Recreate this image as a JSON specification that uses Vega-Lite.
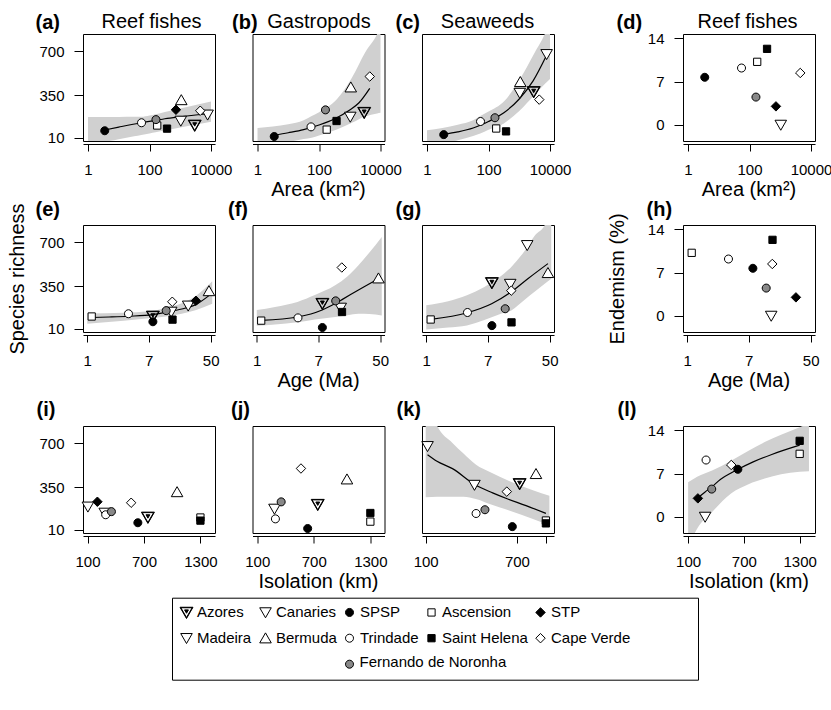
{
"$schema": "https://vega.github.io/schema/vega-lite/v6.json",
"padding": {"left": 6, "top": 11, "right": 0, "bottom": 0},
"datasets": {
"islands": [
{"island":"Azores","area":2950,"age":8.0,"iso":742,"fish":110,"gastro":212,"seaweed":378,"endem":null},
{"island":"Canaries","area":7760,"age":24.5,"iso":104,"fish":194,"gastro":null,"seaweed":678,"endem":null},
{"island":"SPSP","area":3.5,"age":8.0,"iso":635,"fish":66,"gastro":20,"seaweed":35,"endem":7.7},
{"island":"Ascension","area":178,"age":1.15,"iso":1300,"fish":108,"gastro":75,"seaweed":84,"endem":10.2},
{"island":"STP","area":724,"age":31.3,"iso":205,"fish":234,"gastro":null,"seaweed":null,"endem":3.0},
{"island":"Madeira","area":1040,"age":14.3,"iso":283,"fish":145,"gastro":177,"seaweed":368,"endem":0},
{"island":"Bermuda","area":1080,"age":47.3,"iso":1052,"fish":312,"gastro":414,"seaweed":457,"endem":null},
{"island":"Trindade","area":55,"age":3.69,"iso":293,"fish":130,"gastro":97,"seaweed":140,"endem":9.2},
{"island":"Saint Helena","area":372,"age":14.9,"iso":1300,"fish":83,"gastro":144,"seaweed":61,"endem":12.3},
{"island":"Cape Verde","area":4470,"age":14.8,"iso":564,"fish":226,"gastro":500,"seaweed":315,"endem":8.4},
{"island":"Fernando de Noronha","area":162,"age":12.2,"iso":354,"fish":155,"gastro":233,"seaweed":170,"endem":4.5}
],
"bands": [
{"p":"a","x":1,"lo":-49,"hi":176},{"p":"a","x":3.16,"lo":-25,"hi":176},{"p":"a","x":10,"lo":-2,"hi":177},{"p":"a","x":31.6,"lo":22,"hi":178},{"p":"a","x":54,"lo":33,"hi":178},{"p":"a","x":100,"lo":45,"hi":188},{"p":"a","x":158,"lo":55,"hi":198},{"p":"a","x":316,"lo":68,"hi":216},{"p":"a","x":1000,"lo":92,"hi":245},{"p":"a","x":3162,"lo":116,"hi":272},{"p":"a","x":10000,"lo":139,"hi":300},
{"p":"b","x":1,"lo":-90,"hi":88},{"p":"b","x":3.16,"lo":-55,"hi":100},{"p":"b","x":10,"lo":-25,"hi":118},{"p":"b","x":31.6,"lo":0,"hi":150},{"p":"b","x":58,"lo":10,"hi":184},{"p":"b","x":100,"lo":28,"hi":215},{"p":"b","x":380,"lo":77,"hi":318},{"p":"b","x":1175,"lo":130,"hi":491},{"p":"b","x":3162,"lo":180,"hi":693},{"p":"b","x":7760,"lo":205,"hi":840},{"p":"b","x":10000,"lo":210,"hi":900},
{"p":"c","x":1,"lo":-70,"hi":70},{"p":"c","x":3.16,"lo":-40,"hi":88},{"p":"c","x":10,"lo":-10,"hi":115},{"p":"c","x":31.6,"lo":25,"hi":150},{"p":"c","x":54,"lo":45,"hi":184},{"p":"c","x":100,"lo":75,"hi":220},{"p":"c","x":316,"lo":125,"hi":300},{"p":"c","x":1000,"lo":225,"hi":470},{"p":"c","x":3162,"lo":355,"hi":690},{"p":"c","x":6760,"lo":440,"hi":840},{"p":"c","x":10000,"lo":480,"hi":950},
{"p":"e","x":1,"lo":50,"hi":132},{"p":"e","x":3.16,"lo":75,"hi":138},{"p":"e","x":7.08,"lo":95,"hi":150},{"p":"e","x":12,"lo":108,"hi":176},{"p":"e","x":20,"lo":130,"hi":215},{"p":"e","x":31.6,"lo":160,"hi":275},{"p":"e","x":52.5,"lo":210,"hi":390},
{"p":"f","x":1,"lo":35,"hi":160},{"p":"f","x":1.78,"lo":45,"hi":185},{"p":"f","x":3.63,"lo":62,"hi":225},{"p":"f","x":6.3,"lo":85,"hi":280},{"p":"f","x":12,"lo":104,"hi":358},{"p":"f","x":17.8,"lo":118,"hi":430},{"p":"f","x":25.1,"lo":130,"hi":518},{"p":"f","x":35.5,"lo":128,"hi":620},{"p":"f","x":52.5,"lo":117,"hi":745},
{"p":"g","x":1,"lo":5,"hi":198},{"p":"g","x":2,"lo":20,"hi":230},{"p":"g","x":3.63,"lo":37,"hi":278},{"p":"g","x":6.3,"lo":80,"hi":345},{"p":"g","x":10,"lo":125,"hi":420},{"p":"g","x":14.8,"lo":157,"hi":505},{"p":"g","x":22.4,"lo":240,"hi":630},{"p":"g","x":31.6,"lo":310,"hi":760},{"p":"g","x":42.7,"lo":370,"hi":840},{"p":"g","x":52.5,"lo":411,"hi":1000},
{"p":"k","x":100,"lo":270,"hi":1100},{"p":"k","x":128,"lo":275,"hi":840},{"p":"k","x":177,"lo":275,"hi":705},{"p":"k","x":224,"lo":275,"hi":620},{"p":"k","x":291,"lo":257,"hi":533},{"p":"k","x":398,"lo":215,"hi":470},{"p":"k","x":593,"lo":165,"hi":401},{"p":"k","x":1000,"lo":95,"hi":325},{"p":"k","x":1400,"lo":45,"hi":282},
{"p":"l","x":100,"lo":-5,"hi":5.6},{"p":"l","x":197,"lo":-1.9,"hi":6.5},{"p":"l","x":358,"lo":0.8,"hi":7.5},{"p":"l","x":562,"lo":3.8,"hi":9.1},{"p":"l","x":750,"lo":5.3,"hi":10.7},{"p":"l","x":924,"lo":6.2,"hi":12.1},{"p":"l","x":1100,"lo":6.9,"hi":13.3},{"p":"l","x":1300,"lo":7.3,"hi":14.5},{"p":"l","x":1400,"lo":7.4,"hi":15.1}
],
"lines": [
{"p":"a","x":3.5,"y":72},{"p":"a","x":10,"y":95},{"p":"a","x":54,"y":130},{"p":"a","x":158,"y":149},{"p":"a","x":316,"y":162},{"p":"a","x":1000,"y":178},{"p":"a","x":3162,"y":192},{"p":"a","x":7760,"y":202},
{"p":"b","x":3.5,"y":30},{"p":"b","x":10,"y":50},{"p":"b","x":31.6,"y":75},{"p":"b","x":100,"y":112},{"p":"b","x":316,"y":160},{"p":"b","x":1000,"y":232},{"p":"b","x":2000,"y":290},{"p":"b","x":4470,"y":405},
{"p":"c","x":3.5,"y":38},{"p":"c","x":10,"y":57},{"p":"c","x":31.6,"y":88},{"p":"c","x":54,"y":110},{"p":"c","x":100,"y":140},{"p":"c","x":316,"y":210},{"p":"c","x":1000,"y":320},{"p":"c","x":2820,"y":465},{"p":"c","x":7760,"y":670},
{"p":"e","x":1.15,"y":100},{"p":"e","x":2,"y":104},{"p":"e","x":3.72,"y":110},{"p":"e","x":7.94,"y":123},{"p":"e","x":12.6,"y":143},{"p":"e","x":20,"y":168},{"p":"e","x":31.6,"y":205},{"p":"e","x":47.3,"y":275},
{"p":"f","x":1.15,"y":77},{"p":"f","x":3.66,"y":104},{"p":"f","x":7.94,"y":160},{"p":"f","x":12,"y":212},{"p":"f","x":15.1,"y":245},{"p":"f","x":25.1,"y":320},{"p":"f","x":47.3,"y":410},
{"p":"g","x":1.15,"y":85},{"p":"g","x":3.66,"y":138},{"p":"g","x":7.94,"y":210},{"p":"g","x":14.7,"y":304},{"p":"g","x":25,"y":410},{"p":"g","x":47.3,"y":531},
{"p":"k","x":104,"y":610},{"p":"k","x":126,"y":560},{"p":"k","x":177,"y":499},{"p":"k","x":287,"y":370},{"p":"k","x":417,"y":305},{"p":"k","x":553,"y":262},{"p":"k","x":851,"y":203},{"p":"k","x":1300,"y":141},
{"p":"l","x":205,"y":3.1},{"p":"l","x":280,"y":4.0},{"p":"l","x":358,"y":4.9},{"p":"l","x":450,"y":6.1},{"p":"l","x":562,"y":7.1},{"p":"l","x":637,"y":7.7},{"p":"l","x":800,"y":8.9},{"p":"l","x":1000,"y":10.1},{"p":"l","x":1300,"y":11.6}
]
},
"config": {
"font": "Liberation Sans",
"view": {"stroke": "black", "strokeWidth": 1},
"axisX": {"offset": 3, "tickSize": 7, "labelPadding": 11, "labelFontSize": 15, "labelColor": "black", "tickColor": "black", "domainColor": "black", "grid": false, "labelFlush": false, "labelOverlap": false, "titleAlign": "left", "titleBaseline": "alphabetic", "titleFontSize": 20, "titleFontWeight": "bold", "titleColor": "black", "titleAngle": 0},
"axisY": {"tickSize": 9, "labelPadding": 10, "labelFontSize": 15, "labelColor": "black", "tickColor": "black", "domain": false, "grid": false, "titleFontSize": 20, "titleFontWeight": "normal", "titleColor": "black", "titleBaseline": "alphabetic", "titleAlign": "center"},
"title": {"fontSize": 20, "fontWeight": "normal", "color": "black", "orient": "bottom", "anchor": "middle", "frame": "group", "baseline": "top", "offset": 3},
"legend": {"labelFontSize": 15, "labelColor": "black", "strokeColor": "black", "padding": 7, "rowPadding": 10, "columnPadding": 5, "symbolStrokeWidth": 1, "labelOffset": 3, "symbolOpacity": 1, "columns": 5, "direction": "horizontal", "gridAlign": "each", "fillColor": "white", "symbolSize": 121}
},
"concat": [
{"width":132,"height":107,"layer":[
{"data":{"name":"bands"},"transform":[{"filter":"datum.p=='a'"}],"mark":{"type":"area","color":"#d0d0d0","clip":true,"interpolate":"monotone"},
"encoding":{"x":{"field":"x","type":"quantitative","scale":{"type":"log","domain":[0.687,13490],"nice":false},"axis":{"values":[1,100,10000],"format":"d","title":"(a)","titleX":-48,"titleY":-116}},
"y":{"field":"lo","type":"quantitative","scale":{"domain":[-16,840],"nice":false,"zero":false},"axis":{"values":[10,350,700],"title":"Reef fishes","titleAngle":0,"titleX":68,"titleY":-6.5}},"y2":{"field":"hi"}}},
{"data":{"name":"lines"},"transform":[{"filter":"datum.p=='a'"}],"mark":{"type":"line","color":"black","strokeWidth":1.2,"clip":true,"interpolate":"monotone"},"encoding":{"x":{"field":"x","type":"quantitative"},"y":{"field":"y","type":"quantitative"}}},
{"data":{"name":"islands"},"mark":{"type":"point","filled":true,"stroke":"black","strokeWidth":1,"opacity":1,"size":121},"encoding":{"x":{"field":"area","type":"quantitative"},"y":{"field":"fish","type":"quantitative"},
"shape":{"field":"island","type":"nominal","scale":{"domain":["Azores","Canaries","SPSP","Ascension","STP","Madeira","Bermuda","Trindade","Saint Helena","Cape Verde"," ","  ","Fernando de Noronha"],"range":["M-1.18,-0.93L1.18,-0.93L0,1.12ZM-1.024,-0.84L0,0.939L1.024,-0.84ZM-0.354,-0.453L0.354,-0.453L0,0.162Z","M-1.05,-0.85L1.05,-0.85L0,0.97Z","M0.73,0A0.73,0.73,0,1,1,-0.73,0A0.73,0.73,0,1,1,0.73,0Z","M-0.66,-0.66L0.66,-0.66L0.66,0.66L-0.66,0.66Z","M0,-0.86L0.86,0L0,0.86L-0.86,0Z","M-1.05,-0.85L1.05,-0.85L0,0.97Z","M-1.05,0.85L1.05,0.85L0,-0.97Z","M0.73,0A0.73,0.73,0,1,1,-0.73,0A0.73,0.73,0,1,1,0.73,0Z","M-0.66,-0.66L0.66,-0.66L0.66,0.66L-0.66,0.66Z","M0,-0.86L0.86,0L0,0.86L-0.86,0Z","M0,0","M0,0","M0.73,0A0.73,0.73,0,1,1,-0.73,0A0.73,0.73,0,1,1,0.73,0Z"]},"legend":{"title":"000000000","titleOrient":"right","titleFontSize":12,"titleColor":"transparent","titlePadding":0,"orient":"none","legendX":89,"legendY":563.7,"labelExpr":"datum.label == 'Fernando de Noronha' ? '' : datum.label"}},
"fill":{"field":"island","type":"nominal","scale":{"domain":["Azores","Canaries","SPSP","Ascension","STP","Madeira","Bermuda","Trindade","Saint Helena","Cape Verde"," ","  ","Fernando de Noronha"],"range":["black","white","black","white","black","white","white","white","black","white","white","white","#888888"]},"legend":{"title":"000000000","titleOrient":"right","titleFontSize":12,"titleColor":"transparent","titlePadding":0,"orient":"none","legendX":89,"legendY":563.7,"labelExpr":"datum.label == 'Fernando de Noronha' ? '' : datum.label"}},
"stroke":{"condition":{"test":"datum.island == 'Fernando de Noronha'","field":"island","type":"nominal","scale":{"domain":["Fernando de Noronha"],"range":["black"]},"legend":{"title":null,"orient":"none","legendX":258.5,"legendY":620.7,"symbolType":"circle","symbolSize":121,"symbolOpacity":0,"strokeColor":"transparent","fillColor":"transparent","padding":0}},"value":"black"}}}
]},
{"width":132,"height":107,"title":"Area (km²)","layer":[
{"data":{"name":"bands"},"transform":[{"filter":"datum.p=='b'"}],"mark":{"type":"area","color":"#d0d0d0","clip":true,"interpolate":"monotone"},
"encoding":{"x":{"field":"x","type":"quantitative","scale":{"type":"log","domain":[0.687,13490],"nice":false},"axis":{"values":[1,100,10000],"format":"d","title":"(b)","titleX":-21,"titleY":-116}},
"y":{"field":"lo","type":"quantitative","scale":{"domain":[-16,840],"nice":false,"zero":false},"axis":{"labels":false,"ticks":false,"title":"Gastropods","titleAngle":0,"titleX":66,"titleY":-6.5}},"y2":{"field":"hi"}}},
{"data":{"name":"lines"},"transform":[{"filter":"datum.p=='b'"}],"mark":{"type":"line","color":"black","strokeWidth":1.2,"clip":true,"interpolate":"monotone"},"encoding":{"x":{"field":"x","type":"quantitative"},"y":{"field":"y","type":"quantitative"}}},
{"data":{"name":"islands"},"mark":{"type":"point","filled":true,"stroke":"black","strokeWidth":1,"opacity":1,"size":121},"encoding":{"x":{"field":"area","type":"quantitative"},"y":{"field":"gastro","type":"quantitative"},
"shape":{"field":"island","type":"nominal","scale":{"domain":["Azores","Canaries","SPSP","Ascension","STP","Madeira","Bermuda","Trindade","Saint Helena","Cape Verde"," ","  ","Fernando de Noronha"],"range":["M-1.18,-0.93L1.18,-0.93L0,1.12ZM-1.024,-0.84L0,0.939L1.024,-0.84ZM-0.354,-0.453L0.354,-0.453L0,0.162Z","M-1.05,-0.85L1.05,-0.85L0,0.97Z","M0.73,0A0.73,0.73,0,1,1,-0.73,0A0.73,0.73,0,1,1,0.73,0Z","M-0.66,-0.66L0.66,-0.66L0.66,0.66L-0.66,0.66Z","M0,-0.86L0.86,0L0,0.86L-0.86,0Z","M-1.05,-0.85L1.05,-0.85L0,0.97Z","M-1.05,0.85L1.05,0.85L0,-0.97Z","M0.73,0A0.73,0.73,0,1,1,-0.73,0A0.73,0.73,0,1,1,0.73,0Z","M-0.66,-0.66L0.66,-0.66L0.66,0.66L-0.66,0.66Z","M0,-0.86L0.86,0L0,0.86L-0.86,0Z","M0,0","M0,0","M0.73,0A0.73,0.73,0,1,1,-0.73,0A0.73,0.73,0,1,1,0.73,0Z"]},"legend":{"title":"000000000","titleOrient":"right","titleFontSize":12,"titleColor":"transparent","titlePadding":0,"orient":"none","legendX":89,"legendY":563.7,"labelExpr":"datum.label == 'Fernando de Noronha' ? '' : datum.label"}},
"fill":{"field":"island","type":"nominal","scale":{"domain":["Azores","Canaries","SPSP","Ascension","STP","Madeira","Bermuda","Trindade","Saint Helena","Cape Verde"," ","  ","Fernando de Noronha"],"range":["black","white","black","white","black","white","white","white","black","white","white","white","#888888"]},"legend":{"title":"000000000","titleOrient":"right","titleFontSize":12,"titleColor":"transparent","titlePadding":0,"orient":"none","legendX":89,"legendY":563.7,"labelExpr":"datum.label == 'Fernando de Noronha' ? '' : datum.label"}},
"stroke":{"condition":{"test":"datum.island == 'Fernando de Noronha'","field":"island","type":"nominal","scale":{"domain":["Fernando de Noronha"],"range":["black"]},"legend":{"title":null,"orient":"none","legendX":258.5,"legendY":620.7,"symbolType":"circle","symbolSize":121,"symbolOpacity":0,"strokeColor":"transparent","fillColor":"transparent","padding":0}},"value":"black"}}}
]},
{"width":132,"height":107,"layer":[
{"data":{"name":"bands"},"transform":[{"filter":"datum.p=='c'"}],"mark":{"type":"area","color":"#d0d0d0","clip":true,"interpolate":"monotone"},
"encoding":{"x":{"field":"x","type":"quantitative","scale":{"type":"log","domain":[0.687,13490],"nice":false},"axis":{"values":[1,100,10000],"format":"d","title":"(c)","titleX":-27,"titleY":-116}},
"y":{"field":"lo","type":"quantitative","scale":{"domain":[-16,840],"nice":false,"zero":false},"axis":{"labels":false,"ticks":false,"title":"Seaweeds","titleAngle":0,"titleX":65,"titleY":-6.5}},"y2":{"field":"hi"}}},
{"data":{"name":"lines"},"transform":[{"filter":"datum.p=='c'"}],"mark":{"type":"line","color":"black","strokeWidth":1.2,"clip":true,"interpolate":"monotone"},"encoding":{"x":{"field":"x","type":"quantitative"},"y":{"field":"y","type":"quantitative"}}},
{"data":{"name":"islands"},"mark":{"type":"point","filled":true,"stroke":"black","strokeWidth":1,"opacity":1,"size":121},"encoding":{"x":{"field":"area","type":"quantitative"},"y":{"field":"seaweed","type":"quantitative"},
"shape":{"field":"island","type":"nominal","scale":{"domain":["Azores","Canaries","SPSP","Ascension","STP","Madeira","Bermuda","Trindade","Saint Helena","Cape Verde"," ","  ","Fernando de Noronha"],"range":["M-1.18,-0.93L1.18,-0.93L0,1.12ZM-1.024,-0.84L0,0.939L1.024,-0.84ZM-0.354,-0.453L0.354,-0.453L0,0.162Z","M-1.05,-0.85L1.05,-0.85L0,0.97Z","M0.73,0A0.73,0.73,0,1,1,-0.73,0A0.73,0.73,0,1,1,0.73,0Z","M-0.66,-0.66L0.66,-0.66L0.66,0.66L-0.66,0.66Z","M0,-0.86L0.86,0L0,0.86L-0.86,0Z","M-1.05,-0.85L1.05,-0.85L0,0.97Z","M-1.05,0.85L1.05,0.85L0,-0.97Z","M0.73,0A0.73,0.73,0,1,1,-0.73,0A0.73,0.73,0,1,1,0.73,0Z","M-0.66,-0.66L0.66,-0.66L0.66,0.66L-0.66,0.66Z","M0,-0.86L0.86,0L0,0.86L-0.86,0Z","M0,0","M0,0","M0.73,0A0.73,0.73,0,1,1,-0.73,0A0.73,0.73,0,1,1,0.73,0Z"]},"legend":{"title":"000000000","titleOrient":"right","titleFontSize":12,"titleColor":"transparent","titlePadding":0,"orient":"none","legendX":89,"legendY":563.7,"labelExpr":"datum.label == 'Fernando de Noronha' ? '' : datum.label"}},
"fill":{"field":"island","type":"nominal","scale":{"domain":["Azores","Canaries","SPSP","Ascension","STP","Madeira","Bermuda","Trindade","Saint Helena","Cape Verde"," ","  ","Fernando de Noronha"],"range":["black","white","black","white","black","white","white","white","black","white","white","white","#888888"]},"legend":{"title":"000000000","titleOrient":"right","titleFontSize":12,"titleColor":"transparent","titlePadding":0,"orient":"none","legendX":89,"legendY":563.7,"labelExpr":"datum.label == 'Fernando de Noronha' ? '' : datum.label"}},
"stroke":{"condition":{"test":"datum.island == 'Fernando de Noronha'","field":"island","type":"nominal","scale":{"domain":["Fernando de Noronha"],"range":["black"]},"legend":{"title":null,"orient":"none","legendX":258.5,"legendY":620.7,"symbolType":"circle","symbolSize":121,"symbolOpacity":0,"strokeColor":"transparent","fillColor":"transparent","padding":0}},"value":"black"}}}
]},
{"width":54,"height":107,"data":{"values":[]},"mark":"point","view":{"stroke":null}},
{"width":132,"height":107,"title":"Area (km²)","data":{"name":"islands"},"mark":{"type":"point","filled":true,"stroke":"black","strokeWidth":1,"opacity":1,"size":121},
"encoding":{"x":{"field":"area","type":"quantitative","scale":{"type":"log","domain":[0.687,13490],"nice":false},"axis":{"values":[1,100,10000],"format":"d","title":"(d)","titleX":-67,"titleY":-116}},
"y":{"field":"endem","type":"quantitative","scale":{"domain":[-2.6,14.7],"nice":false,"zero":false},"axis":{"values":[0,7,14],"title":"Reef fishes","titleAngle":0,"titleX":64,"titleY":-6.5}},
"shape":{"field":"island","type":"nominal","scale":{"domain":["Azores","Canaries","SPSP","Ascension","STP","Madeira","Bermuda","Trindade","Saint Helena","Cape Verde"," ","  ","Fernando de Noronha"],"range":["M-1.18,-0.93L1.18,-0.93L0,1.12ZM-1.024,-0.84L0,0.939L1.024,-0.84ZM-0.354,-0.453L0.354,-0.453L0,0.162Z","M-1.05,-0.85L1.05,-0.85L0,0.97Z","M0.73,0A0.73,0.73,0,1,1,-0.73,0A0.73,0.73,0,1,1,0.73,0Z","M-0.66,-0.66L0.66,-0.66L0.66,0.66L-0.66,0.66Z","M0,-0.86L0.86,0L0,0.86L-0.86,0Z","M-1.05,-0.85L1.05,-0.85L0,0.97Z","M-1.05,0.85L1.05,0.85L0,-0.97Z","M0.73,0A0.73,0.73,0,1,1,-0.73,0A0.73,0.73,0,1,1,0.73,0Z","M-0.66,-0.66L0.66,-0.66L0.66,0.66L-0.66,0.66Z","M0,-0.86L0.86,0L0,0.86L-0.86,0Z","M0,0","M0,0","M0.73,0A0.73,0.73,0,1,1,-0.73,0A0.73,0.73,0,1,1,0.73,0Z"]},"legend":{"title":"000000000","titleOrient":"right","titleFontSize":12,"titleColor":"transparent","titlePadding":0,"orient":"none","legendX":89,"legendY":563.7,"labelExpr":"datum.label == 'Fernando de Noronha' ? '' : datum.label"}},
"fill":{"field":"island","type":"nominal","scale":{"domain":["Azores","Canaries","SPSP","Ascension","STP","Madeira","Bermuda","Trindade","Saint Helena","Cape Verde"," ","  ","Fernando de Noronha"],"range":["black","white","black","white","black","white","white","white","black","white","white","white","#888888"]},"legend":{"title":"000000000","titleOrient":"right","titleFontSize":12,"titleColor":"transparent","titlePadding":0,"orient":"none","legendX":89,"legendY":563.7,"labelExpr":"datum.label == 'Fernando de Noronha' ? '' : datum.label"}},
"stroke":{"condition":{"test":"datum.island == 'Fernando de Noronha'","field":"island","type":"nominal","scale":{"domain":["Fernando de Noronha"],"range":["black"]},"legend":{"title":null,"orient":"none","legendX":258.5,"legendY":620.7,"symbolType":"circle","symbolSize":121,"symbolOpacity":0,"strokeColor":"transparent","fillColor":"transparent","padding":0}},"value":"black"}}},
{"width":1,"height":73.3,"data":{"values":[]},"mark":"point","view":{"stroke":null}},
{"width":1,"height":73.3,"data":{"values":[]},"mark":"point","view":{"stroke":null}},
{"width":1,"height":73.3,"data":{"values":[]},"mark":"point","view":{"stroke":null}},
{"width":1,"height":73.3,"data":{"values":[]},"mark":"point","view":{"stroke":null}},
{"width":1,"height":73.3,"data":{"values":[]},"mark":"point","view":{"stroke":null}},
{"width":132,"height":107,"layer":[
{"data":{"name":"bands"},"transform":[{"filter":"datum.p=='e'"}],"mark":{"type":"area","color":"#d0d0d0","clip":true,"interpolate":"monotone"},
"encoding":{"x":{"field":"x","type":"quantitative","scale":{"type":"log","domain":[0.873,57.3],"nice":false},"axis":{"values":[1,7,50],"format":"d","title":"(e)","titleX":-48,"titleY":-120}},
"y":{"field":"lo","type":"quantitative","scale":{"domain":[-16,840],"nice":false,"zero":false},"axis":{"values":[10,350,700],"title":"Species richness","titleAngle":270,"titleX":-60,"titleY":53.5}},"y2":{"field":"hi"}}},
{"data":{"name":"lines"},"transform":[{"filter":"datum.p=='e'"}],"mark":{"type":"line","color":"black","strokeWidth":1.2,"clip":true,"interpolate":"monotone"},"encoding":{"x":{"field":"x","type":"quantitative"},"y":{"field":"y","type":"quantitative"}}},
{"data":{"name":"islands"},"mark":{"type":"point","filled":true,"stroke":"black","strokeWidth":1,"opacity":1,"size":121},"encoding":{"x":{"field":"age","type":"quantitative"},"y":{"field":"fish","type":"quantitative"},
"shape":{"field":"island","type":"nominal","scale":{"domain":["Azores","Canaries","SPSP","Ascension","STP","Madeira","Bermuda","Trindade","Saint Helena","Cape Verde"," ","  ","Fernando de Noronha"],"range":["M-1.18,-0.93L1.18,-0.93L0,1.12ZM-1.024,-0.84L0,0.939L1.024,-0.84ZM-0.354,-0.453L0.354,-0.453L0,0.162Z","M-1.05,-0.85L1.05,-0.85L0,0.97Z","M0.73,0A0.73,0.73,0,1,1,-0.73,0A0.73,0.73,0,1,1,0.73,0Z","M-0.66,-0.66L0.66,-0.66L0.66,0.66L-0.66,0.66Z","M0,-0.86L0.86,0L0,0.86L-0.86,0Z","M-1.05,-0.85L1.05,-0.85L0,0.97Z","M-1.05,0.85L1.05,0.85L0,-0.97Z","M0.73,0A0.73,0.73,0,1,1,-0.73,0A0.73,0.73,0,1,1,0.73,0Z","M-0.66,-0.66L0.66,-0.66L0.66,0.66L-0.66,0.66Z","M0,-0.86L0.86,0L0,0.86L-0.86,0Z","M0,0","M0,0","M0.73,0A0.73,0.73,0,1,1,-0.73,0A0.73,0.73,0,1,1,0.73,0Z"]},"legend":{"title":"000000000","titleOrient":"right","titleFontSize":12,"titleColor":"transparent","titlePadding":0,"orient":"none","legendX":89,"legendY":563.7,"labelExpr":"datum.label == 'Fernando de Noronha' ? '' : datum.label"}},
"fill":{"field":"island","type":"nominal","scale":{"domain":["Azores","Canaries","SPSP","Ascension","STP","Madeira","Bermuda","Trindade","Saint Helena","Cape Verde"," ","  ","Fernando de Noronha"],"range":["black","white","black","white","black","white","white","white","black","white","white","white","#888888"]},"legend":{"title":"000000000","titleOrient":"right","titleFontSize":12,"titleColor":"transparent","titlePadding":0,"orient":"none","legendX":89,"legendY":563.7,"labelExpr":"datum.label == 'Fernando de Noronha' ? '' : datum.label"}},
"stroke":{"condition":{"test":"datum.island == 'Fernando de Noronha'","field":"island","type":"nominal","scale":{"domain":["Fernando de Noronha"],"range":["black"]},"legend":{"title":null,"orient":"none","legendX":258.5,"legendY":620.7,"symbolType":"circle","symbolSize":121,"symbolOpacity":0,"strokeColor":"transparent","fillColor":"transparent","padding":0}},"value":"black"}}}
]},
{"width":132,"height":107,"title":"Age (Ma)","layer":[
{"data":{"name":"bands"},"transform":[{"filter":"datum.p=='f'"}],"mark":{"type":"area","color":"#d0d0d0","clip":true,"interpolate":"monotone"},
"encoding":{"x":{"field":"x","type":"quantitative","scale":{"type":"log","domain":[0.873,57.3],"nice":false},"axis":{"values":[1,7,50],"format":"d","title":"(f)","titleX":-25,"titleY":-120}},
"y":{"field":"lo","type":"quantitative","scale":{"domain":[-16,840],"nice":false,"zero":false},"axis":null},"y2":{"field":"hi"}}},
{"data":{"name":"lines"},"transform":[{"filter":"datum.p=='f'"}],"mark":{"type":"line","color":"black","strokeWidth":1.2,"clip":true,"interpolate":"monotone"},"encoding":{"x":{"field":"x","type":"quantitative"},"y":{"field":"y","type":"quantitative"}}},
{"data":{"name":"islands"},"mark":{"type":"point","filled":true,"stroke":"black","strokeWidth":1,"opacity":1,"size":121},"encoding":{"x":{"field":"age","type":"quantitative"},"y":{"field":"gastro","type":"quantitative"},
"shape":{"field":"island","type":"nominal","scale":{"domain":["Azores","Canaries","SPSP","Ascension","STP","Madeira","Bermuda","Trindade","Saint Helena","Cape Verde"," ","  ","Fernando de Noronha"],"range":["M-1.18,-0.93L1.18,-0.93L0,1.12ZM-1.024,-0.84L0,0.939L1.024,-0.84ZM-0.354,-0.453L0.354,-0.453L0,0.162Z","M-1.05,-0.85L1.05,-0.85L0,0.97Z","M0.73,0A0.73,0.73,0,1,1,-0.73,0A0.73,0.73,0,1,1,0.73,0Z","M-0.66,-0.66L0.66,-0.66L0.66,0.66L-0.66,0.66Z","M0,-0.86L0.86,0L0,0.86L-0.86,0Z","M-1.05,-0.85L1.05,-0.85L0,0.97Z","M-1.05,0.85L1.05,0.85L0,-0.97Z","M0.73,0A0.73,0.73,0,1,1,-0.73,0A0.73,0.73,0,1,1,0.73,0Z","M-0.66,-0.66L0.66,-0.66L0.66,0.66L-0.66,0.66Z","M0,-0.86L0.86,0L0,0.86L-0.86,0Z","M0,0","M0,0","M0.73,0A0.73,0.73,0,1,1,-0.73,0A0.73,0.73,0,1,1,0.73,0Z"]},"legend":{"title":"000000000","titleOrient":"right","titleFontSize":12,"titleColor":"transparent","titlePadding":0,"orient":"none","legendX":89,"legendY":563.7,"labelExpr":"datum.label == 'Fernando de Noronha' ? '' : datum.label"}},
"fill":{"field":"island","type":"nominal","scale":{"domain":["Azores","Canaries","SPSP","Ascension","STP","Madeira","Bermuda","Trindade","Saint Helena","Cape Verde"," ","  ","Fernando de Noronha"],"range":["black","white","black","white","black","white","white","white","black","white","white","white","#888888"]},"legend":{"title":"000000000","titleOrient":"right","titleFontSize":12,"titleColor":"transparent","titlePadding":0,"orient":"none","legendX":89,"legendY":563.7,"labelExpr":"datum.label == 'Fernando de Noronha' ? '' : datum.label"}},
"stroke":{"condition":{"test":"datum.island == 'Fernando de Noronha'","field":"island","type":"nominal","scale":{"domain":["Fernando de Noronha"],"range":["black"]},"legend":{"title":null,"orient":"none","legendX":258.5,"legendY":620.7,"symbolType":"circle","symbolSize":121,"symbolOpacity":0,"strokeColor":"transparent","fillColor":"transparent","padding":0}},"value":"black"}}}
]},
{"width":132,"height":107,"layer":[
{"data":{"name":"bands"},"transform":[{"filter":"datum.p=='g'"}],"mark":{"type":"area","color":"#d0d0d0","clip":true,"interpolate":"monotone"},
"encoding":{"x":{"field":"x","type":"quantitative","scale":{"type":"log","domain":[0.873,57.3],"nice":false},"axis":{"values":[1,7,50],"format":"d","title":"(g)","titleX":-27,"titleY":-120}},
"y":{"field":"lo","type":"quantitative","scale":{"domain":[-16,840],"nice":false,"zero":false},"axis":null},"y2":{"field":"hi"}}},
{"data":{"name":"lines"},"transform":[{"filter":"datum.p=='g'"}],"mark":{"type":"line","color":"black","strokeWidth":1.2,"clip":true,"interpolate":"monotone"},"encoding":{"x":{"field":"x","type":"quantitative"},"y":{"field":"y","type":"quantitative"}}},
{"data":{"name":"islands"},"mark":{"type":"point","filled":true,"stroke":"black","strokeWidth":1,"opacity":1,"size":121},"encoding":{"x":{"field":"age","type":"quantitative"},"y":{"field":"seaweed","type":"quantitative"},
"shape":{"field":"island","type":"nominal","scale":{"domain":["Azores","Canaries","SPSP","Ascension","STP","Madeira","Bermuda","Trindade","Saint Helena","Cape Verde"," ","  ","Fernando de Noronha"],"range":["M-1.18,-0.93L1.18,-0.93L0,1.12ZM-1.024,-0.84L0,0.939L1.024,-0.84ZM-0.354,-0.453L0.354,-0.453L0,0.162Z","M-1.05,-0.85L1.05,-0.85L0,0.97Z","M0.73,0A0.73,0.73,0,1,1,-0.73,0A0.73,0.73,0,1,1,0.73,0Z","M-0.66,-0.66L0.66,-0.66L0.66,0.66L-0.66,0.66Z","M0,-0.86L0.86,0L0,0.86L-0.86,0Z","M-1.05,-0.85L1.05,-0.85L0,0.97Z","M-1.05,0.85L1.05,0.85L0,-0.97Z","M0.73,0A0.73,0.73,0,1,1,-0.73,0A0.73,0.73,0,1,1,0.73,0Z","M-0.66,-0.66L0.66,-0.66L0.66,0.66L-0.66,0.66Z","M0,-0.86L0.86,0L0,0.86L-0.86,0Z","M0,0","M0,0","M0.73,0A0.73,0.73,0,1,1,-0.73,0A0.73,0.73,0,1,1,0.73,0Z"]},"legend":{"title":"000000000","titleOrient":"right","titleFontSize":12,"titleColor":"transparent","titlePadding":0,"orient":"none","legendX":89,"legendY":563.7,"labelExpr":"datum.label == 'Fernando de Noronha' ? '' : datum.label"}},
"fill":{"field":"island","type":"nominal","scale":{"domain":["Azores","Canaries","SPSP","Ascension","STP","Madeira","Bermuda","Trindade","Saint Helena","Cape Verde"," ","  ","Fernando de Noronha"],"range":["black","white","black","white","black","white","white","white","black","white","white","white","#888888"]},"legend":{"title":"000000000","titleOrient":"right","titleFontSize":12,"titleColor":"transparent","titlePadding":0,"orient":"none","legendX":89,"legendY":563.7,"labelExpr":"datum.label == 'Fernando de Noronha' ? '' : datum.label"}},
"stroke":{"condition":{"test":"datum.island == 'Fernando de Noronha'","field":"island","type":"nominal","scale":{"domain":["Fernando de Noronha"],"range":["black"]},"legend":{"title":null,"orient":"none","legendX":258.5,"legendY":620.7,"symbolType":"circle","symbolSize":121,"symbolOpacity":0,"strokeColor":"transparent","fillColor":"transparent","padding":0}},"value":"black"}}}
]},
{"width":54,"height":107,"data":{"values":[]},"mark":"point","view":{"stroke":null}},
{"width":132,"height":107,"title":"Age (Ma)","data":{"name":"islands"},"mark":{"type":"point","filled":true,"stroke":"black","strokeWidth":1,"opacity":1,"size":121},
"encoding":{"x":{"field":"age","type":"quantitative","scale":{"type":"log","domain":[0.873,57.3],"nice":false},"axis":{"values":[1,7,50],"format":"d","title":"(h)","titleX":-37,"titleY":-120}},
"y":{"field":"endem","type":"quantitative","scale":{"domain":[-2.6,14.7],"nice":false,"zero":false},"axis":{"values":[0,7,14],"title":"Endemism (%)","titleAngle":270,"titleX":-60,"titleY":53.5}},
"shape":{"field":"island","type":"nominal","scale":{"domain":["Azores","Canaries","SPSP","Ascension","STP","Madeira","Bermuda","Trindade","Saint Helena","Cape Verde"," ","  ","Fernando de Noronha"],"range":["M-1.18,-0.93L1.18,-0.93L0,1.12ZM-1.024,-0.84L0,0.939L1.024,-0.84ZM-0.354,-0.453L0.354,-0.453L0,0.162Z","M-1.05,-0.85L1.05,-0.85L0,0.97Z","M0.73,0A0.73,0.73,0,1,1,-0.73,0A0.73,0.73,0,1,1,0.73,0Z","M-0.66,-0.66L0.66,-0.66L0.66,0.66L-0.66,0.66Z","M0,-0.86L0.86,0L0,0.86L-0.86,0Z","M-1.05,-0.85L1.05,-0.85L0,0.97Z","M-1.05,0.85L1.05,0.85L0,-0.97Z","M0.73,0A0.73,0.73,0,1,1,-0.73,0A0.73,0.73,0,1,1,0.73,0Z","M-0.66,-0.66L0.66,-0.66L0.66,0.66L-0.66,0.66Z","M0,-0.86L0.86,0L0,0.86L-0.86,0Z","M0,0","M0,0","M0.73,0A0.73,0.73,0,1,1,-0.73,0A0.73,0.73,0,1,1,0.73,0Z"]},"legend":{"title":"000000000","titleOrient":"right","titleFontSize":12,"titleColor":"transparent","titlePadding":0,"orient":"none","legendX":89,"legendY":563.7,"labelExpr":"datum.label == 'Fernando de Noronha' ? '' : datum.label"}},
"fill":{"field":"island","type":"nominal","scale":{"domain":["Azores","Canaries","SPSP","Ascension","STP","Madeira","Bermuda","Trindade","Saint Helena","Cape Verde"," ","  ","Fernando de Noronha"],"range":["black","white","black","white","black","white","white","white","black","white","white","white","#888888"]},"legend":{"title":"000000000","titleOrient":"right","titleFontSize":12,"titleColor":"transparent","titlePadding":0,"orient":"none","legendX":89,"legendY":563.7,"labelExpr":"datum.label == 'Fernando de Noronha' ? '' : datum.label"}},
"stroke":{"condition":{"test":"datum.island == 'Fernando de Noronha'","field":"island","type":"nominal","scale":{"domain":["Fernando de Noronha"],"range":["black"]},"legend":{"title":null,"orient":"none","legendX":258.5,"legendY":620.7,"symbolType":"circle","symbolSize":121,"symbolOpacity":0,"strokeColor":"transparent","fillColor":"transparent","padding":0}},"value":"black"}}},
{"width":1,"height":84,"data":{"values":[]},"mark":"point","view":{"stroke":null}},
{"width":1,"height":84,"data":{"values":[]},"mark":"point","view":{"stroke":null}},
{"width":1,"height":84,"data":{"values":[]},"mark":"point","view":{"stroke":null}},
{"width":1,"height":84,"data":{"values":[]},"mark":"point","view":{"stroke":null}},
{"width":1,"height":84,"data":{"values":[]},"mark":"point","view":{"stroke":null}},
{"width":132,"height":107,"data":{"name":"islands"},"mark":{"type":"point","filled":true,"stroke":"black","strokeWidth":1,"opacity":1,"size":121},
"encoding":{"x":{"field":"iso","type":"quantitative","scale":{"domain":[52,1455],"nice":false,"zero":false},"axis":{"values":[100,700,1300],"format":"d","title":"(i)","titleX":-47,"titleY":-121}},
"y":{"field":"fish","type":"quantitative","scale":{"domain":[-16,840],"nice":false,"zero":false},"axis":{"values":[10,350,700],"title":null}},
"shape":{"field":"island","type":"nominal","scale":{"domain":["Azores","Canaries","SPSP","Ascension","STP","Madeira","Bermuda","Trindade","Saint Helena","Cape Verde"," ","  ","Fernando de Noronha"],"range":["M-1.18,-0.93L1.18,-0.93L0,1.12ZM-1.024,-0.84L0,0.939L1.024,-0.84ZM-0.354,-0.453L0.354,-0.453L0,0.162Z","M-1.05,-0.85L1.05,-0.85L0,0.97Z","M0.73,0A0.73,0.73,0,1,1,-0.73,0A0.73,0.73,0,1,1,0.73,0Z","M-0.66,-0.66L0.66,-0.66L0.66,0.66L-0.66,0.66Z","M0,-0.86L0.86,0L0,0.86L-0.86,0Z","M-1.05,-0.85L1.05,-0.85L0,0.97Z","M-1.05,0.85L1.05,0.85L0,-0.97Z","M0.73,0A0.73,0.73,0,1,1,-0.73,0A0.73,0.73,0,1,1,0.73,0Z","M-0.66,-0.66L0.66,-0.66L0.66,0.66L-0.66,0.66Z","M0,-0.86L0.86,0L0,0.86L-0.86,0Z","M0,0","M0,0","M0.73,0A0.73,0.73,0,1,1,-0.73,0A0.73,0.73,0,1,1,0.73,0Z"]},"legend":{"title":"000000000","titleOrient":"right","titleFontSize":12,"titleColor":"transparent","titlePadding":0,"orient":"none","legendX":89,"legendY":563.7,"labelExpr":"datum.label == 'Fernando de Noronha' ? '' : datum.label"}},
"fill":{"field":"island","type":"nominal","scale":{"domain":["Azores","Canaries","SPSP","Ascension","STP","Madeira","Bermuda","Trindade","Saint Helena","Cape Verde"," ","  ","Fernando de Noronha"],"range":["black","white","black","white","black","white","white","white","black","white","white","white","#888888"]},"legend":{"title":"000000000","titleOrient":"right","titleFontSize":12,"titleColor":"transparent","titlePadding":0,"orient":"none","legendX":89,"legendY":563.7,"labelExpr":"datum.label == 'Fernando de Noronha' ? '' : datum.label"}},
"stroke":{"condition":{"test":"datum.island == 'Fernando de Noronha'","field":"island","type":"nominal","scale":{"domain":["Fernando de Noronha"],"range":["black"]},"legend":{"title":null,"orient":"none","legendX":258.5,"legendY":620.7,"symbolType":"circle","symbolSize":121,"symbolOpacity":0,"strokeColor":"transparent","fillColor":"transparent","padding":0}},"value":"black"}}},
{"width":132,"height":107,"title":"Isolation (km)","data":{"name":"islands"},"mark":{"type":"point","filled":true,"stroke":"black","strokeWidth":1,"opacity":1,"size":121},
"encoding":{"x":{"field":"iso","type":"quantitative","scale":{"domain":[50,1450],"nice":false,"zero":false},"axis":{"values":[100,700,1300],"format":"d","title":"(j)","titleX":-22,"titleY":-121}},
"y":{"field":"gastro","type":"quantitative","scale":{"domain":[-16,840],"nice":false,"zero":false},"axis":null},
"shape":{"field":"island","type":"nominal","scale":{"domain":["Azores","Canaries","SPSP","Ascension","STP","Madeira","Bermuda","Trindade","Saint Helena","Cape Verde"," ","  ","Fernando de Noronha"],"range":["M-1.18,-0.93L1.18,-0.93L0,1.12ZM-1.024,-0.84L0,0.939L1.024,-0.84ZM-0.354,-0.453L0.354,-0.453L0,0.162Z","M-1.05,-0.85L1.05,-0.85L0,0.97Z","M0.73,0A0.73,0.73,0,1,1,-0.73,0A0.73,0.73,0,1,1,0.73,0Z","M-0.66,-0.66L0.66,-0.66L0.66,0.66L-0.66,0.66Z","M0,-0.86L0.86,0L0,0.86L-0.86,0Z","M-1.05,-0.85L1.05,-0.85L0,0.97Z","M-1.05,0.85L1.05,0.85L0,-0.97Z","M0.73,0A0.73,0.73,0,1,1,-0.73,0A0.73,0.73,0,1,1,0.73,0Z","M-0.66,-0.66L0.66,-0.66L0.66,0.66L-0.66,0.66Z","M0,-0.86L0.86,0L0,0.86L-0.86,0Z","M0,0","M0,0","M0.73,0A0.73,0.73,0,1,1,-0.73,0A0.73,0.73,0,1,1,0.73,0Z"]},"legend":{"title":"000000000","titleOrient":"right","titleFontSize":12,"titleColor":"transparent","titlePadding":0,"orient":"none","legendX":89,"legendY":563.7,"labelExpr":"datum.label == 'Fernando de Noronha' ? '' : datum.label"}},
"fill":{"field":"island","type":"nominal","scale":{"domain":["Azores","Canaries","SPSP","Ascension","STP","Madeira","Bermuda","Trindade","Saint Helena","Cape Verde"," ","  ","Fernando de Noronha"],"range":["black","white","black","white","black","white","white","white","black","white","white","white","#888888"]},"legend":{"title":"000000000","titleOrient":"right","titleFontSize":12,"titleColor":"transparent","titlePadding":0,"orient":"none","legendX":89,"legendY":563.7,"labelExpr":"datum.label == 'Fernando de Noronha' ? '' : datum.label"}},
"stroke":{"condition":{"test":"datum.island == 'Fernando de Noronha'","field":"island","type":"nominal","scale":{"domain":["Fernando de Noronha"],"range":["black"]},"legend":{"title":null,"orient":"none","legendX":258.5,"legendY":620.7,"symbolType":"circle","symbolSize":121,"symbolOpacity":0,"strokeColor":"transparent","fillColor":"transparent","padding":0}},"value":"black"}}},
{"width":132,"height":107,"layer":[
{"data":{"name":"bands"},"transform":[{"filter":"datum.p=='k'"}],"mark":{"type":"area","color":"#d0d0d0","clip":true,"interpolate":"monotone"},
"encoding":{"x":{"field":"x","type":"quantitative","scale":{"type":"log","domain":[92.4,1545],"nice":false},"axis":{"values":[100,700,1300],"format":"d","labelExpr":"datum.value == 1300 ? '' : datum.label","title":"(k)","titleX":-26,"titleY":-121}},
"y":{"field":"lo","type":"quantitative","scale":{"domain":[-16,840],"nice":false,"zero":false},"axis":null},"y2":{"field":"hi"}}},
{"data":{"name":"lines"},"transform":[{"filter":"datum.p=='k'"}],"mark":{"type":"line","color":"black","strokeWidth":1.2,"clip":true,"interpolate":"monotone"},"encoding":{"x":{"field":"x","type":"quantitative"},"y":{"field":"y","type":"quantitative"}}},
{"data":{"name":"islands"},"mark":{"type":"point","filled":true,"stroke":"black","strokeWidth":1,"opacity":1,"size":121},"encoding":{"x":{"field":"iso","type":"quantitative"},"y":{"field":"seaweed","type":"quantitative"},
"shape":{"field":"island","type":"nominal","scale":{"domain":["Azores","Canaries","SPSP","Ascension","STP","Madeira","Bermuda","Trindade","Saint Helena","Cape Verde"," ","  ","Fernando de Noronha"],"range":["M-1.18,-0.93L1.18,-0.93L0,1.12ZM-1.024,-0.84L0,0.939L1.024,-0.84ZM-0.354,-0.453L0.354,-0.453L0,0.162Z","M-1.05,-0.85L1.05,-0.85L0,0.97Z","M0.73,0A0.73,0.73,0,1,1,-0.73,0A0.73,0.73,0,1,1,0.73,0Z","M-0.66,-0.66L0.66,-0.66L0.66,0.66L-0.66,0.66Z","M0,-0.86L0.86,0L0,0.86L-0.86,0Z","M-1.05,-0.85L1.05,-0.85L0,0.97Z","M-1.05,0.85L1.05,0.85L0,-0.97Z","M0.73,0A0.73,0.73,0,1,1,-0.73,0A0.73,0.73,0,1,1,0.73,0Z","M-0.66,-0.66L0.66,-0.66L0.66,0.66L-0.66,0.66Z","M0,-0.86L0.86,0L0,0.86L-0.86,0Z","M0,0","M0,0","M0.73,0A0.73,0.73,0,1,1,-0.73,0A0.73,0.73,0,1,1,0.73,0Z"]},"legend":{"title":"000000000","titleOrient":"right","titleFontSize":12,"titleColor":"transparent","titlePadding":0,"orient":"none","legendX":89,"legendY":563.7,"labelExpr":"datum.label == 'Fernando de Noronha' ? '' : datum.label"}},
"fill":{"field":"island","type":"nominal","scale":{"domain":["Azores","Canaries","SPSP","Ascension","STP","Madeira","Bermuda","Trindade","Saint Helena","Cape Verde"," ","  ","Fernando de Noronha"],"range":["black","white","black","white","black","white","white","white","black","white","white","white","#888888"]},"legend":{"title":"000000000","titleOrient":"right","titleFontSize":12,"titleColor":"transparent","titlePadding":0,"orient":"none","legendX":89,"legendY":563.7,"labelExpr":"datum.label == 'Fernando de Noronha' ? '' : datum.label"}},
"stroke":{"condition":{"test":"datum.island == 'Fernando de Noronha'","field":"island","type":"nominal","scale":{"domain":["Fernando de Noronha"],"range":["black"]},"legend":{"title":null,"orient":"none","legendX":258.5,"legendY":620.7,"symbolType":"circle","symbolSize":121,"symbolOpacity":0,"strokeColor":"transparent","fillColor":"transparent","padding":0}},"value":"black"}}}
]},
{"width":54,"height":107,"data":{"values":[]},"mark":"point","view":{"stroke":null}},
{"width":132,"height":107,"title":"Isolation (km)","layer":[
{"data":{"name":"bands"},"transform":[{"filter":"datum.p=='l'"}],"mark":{"type":"area","color":"#d0d0d0","clip":true,"interpolate":"monotone"},
"encoding":{"x":{"field":"x","type":"quantitative","scale":{"domain":[45,1465],"nice":false,"zero":false},"axis":{"values":[100,700,1300],"format":"d","title":"(l)","titleX":-66,"titleY":-121}},
"y":{"field":"lo","type":"quantitative","scale":{"domain":[-2.6,14.7],"nice":false,"zero":false},"axis":{"values":[0,7,14],"title":null}},"y2":{"field":"hi"}}},
{"data":{"name":"lines"},"transform":[{"filter":"datum.p=='l'"}],"mark":{"type":"line","color":"black","strokeWidth":1.2,"clip":true,"interpolate":"monotone"},"encoding":{"x":{"field":"x","type":"quantitative"},"y":{"field":"y","type":"quantitative"}}},
{"data":{"name":"islands"},"mark":{"type":"point","filled":true,"stroke":"black","strokeWidth":1,"opacity":1,"size":121},"encoding":{"x":{"field":"iso","type":"quantitative"},"y":{"field":"endem","type":"quantitative"},
"shape":{"field":"island","type":"nominal","scale":{"domain":["Azores","Canaries","SPSP","Ascension","STP","Madeira","Bermuda","Trindade","Saint Helena","Cape Verde"," ","  ","Fernando de Noronha"],"range":["M-1.18,-0.93L1.18,-0.93L0,1.12ZM-1.024,-0.84L0,0.939L1.024,-0.84ZM-0.354,-0.453L0.354,-0.453L0,0.162Z","M-1.05,-0.85L1.05,-0.85L0,0.97Z","M0.73,0A0.73,0.73,0,1,1,-0.73,0A0.73,0.73,0,1,1,0.73,0Z","M-0.66,-0.66L0.66,-0.66L0.66,0.66L-0.66,0.66Z","M0,-0.86L0.86,0L0,0.86L-0.86,0Z","M-1.05,-0.85L1.05,-0.85L0,0.97Z","M-1.05,0.85L1.05,0.85L0,-0.97Z","M0.73,0A0.73,0.73,0,1,1,-0.73,0A0.73,0.73,0,1,1,0.73,0Z","M-0.66,-0.66L0.66,-0.66L0.66,0.66L-0.66,0.66Z","M0,-0.86L0.86,0L0,0.86L-0.86,0Z","M0,0","M0,0","M0.73,0A0.73,0.73,0,1,1,-0.73,0A0.73,0.73,0,1,1,0.73,0Z"]},"legend":{"title":"000000000","titleOrient":"right","titleFontSize":12,"titleColor":"transparent","titlePadding":0,"orient":"none","legendX":89,"legendY":563.7,"labelExpr":"datum.label == 'Fernando de Noronha' ? '' : datum.label"}},
"fill":{"field":"island","type":"nominal","scale":{"domain":["Azores","Canaries","SPSP","Ascension","STP","Madeira","Bermuda","Trindade","Saint Helena","Cape Verde"," ","  ","Fernando de Noronha"],"range":["black","white","black","white","black","white","white","white","black","white","white","white","#888888"]},"legend":{"title":"000000000","titleOrient":"right","titleFontSize":12,"titleColor":"transparent","titlePadding":0,"orient":"none","legendX":89,"legendY":563.7,"labelExpr":"datum.label == 'Fernando de Noronha' ? '' : datum.label"}},
"stroke":{"condition":{"test":"datum.island == 'Fernando de Noronha'","field":"island","type":"nominal","scale":{"domain":["Fernando de Noronha"],"range":["black"]},"legend":{"title":null,"orient":"none","legendX":258.5,"legendY":620.7,"symbolType":"circle","symbolSize":121,"symbolOpacity":0,"strokeColor":"transparent","fillColor":"transparent","padding":0}},"value":"black"}}}
]}
],
"columns": 5,
"bounds": "flush",
"align": "each",
"spacing": {"row": 5, "column": 37.5}
}
